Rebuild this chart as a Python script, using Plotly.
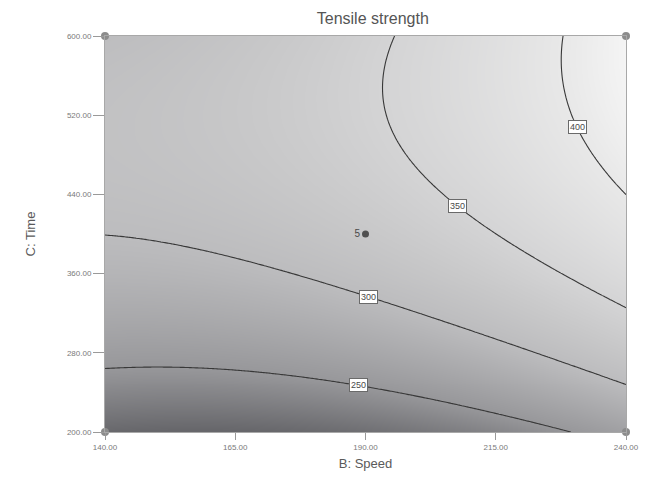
import numpy as np
import plotly.graph_objects as go

# Factor ranges (actual units)
speed_range = [140.0, 240.0]   # B: Speed
time_range = [200.0, 600.0]    # C: Time

# Fitted quadratic model for tensile strength in coded units:
# intercept, B, C, BC, B^2, C^2
coef = [323.68, 42.77, 62.38, 17.72, 19.33, -43.05]

contour_levels = [250, 300, 350, 400]
# speed at which each contour level is labelled
label_speed = [188.6, 190.5, 207.6, 230.6]

speed_ticks = [140, 165, 190, 215, 240]
time_ticks = [200, 280, 360, 440, 520, 600]

# Design points: factorial corners and the replicated centre point
corner_speed = [140, 140, 240, 240]
corner_time = [200, 600, 200, 600]
center_speed = [190]
center_time = [400]
center_reps = ["5"]


def coded(v, rng):
    return (np.asarray(v) - (rng[0] + rng[1]) / 2) / ((rng[1] - rng[0]) / 2)


def model(speed, time):
    b = coded(speed, speed_range)
    c = coded(time, time_range)
    return (coef[0] + coef[1] * b + coef[2] * c + coef[3] * b * c
            + coef[4] * b * b + coef[5] * c * c)


speeds = np.linspace(*speed_range, 201)
times = np.linspace(*time_range, 201)
S, T = np.meshgrid(speeds, times)
Z = model(S, T)

grays = [
    [0.00, "#67676b"],
    [(250 - 212) / 211, "#97979a"],
    [(300 - 212) / 211, "#bcbcbe"],
    [(325 - 212) / 211, "#c8c8c9"],
    [(350 - 212) / 211, "#d4d4d5"],
    [(400 - 212) / 211, "#e8e8e8"],
    [1.00, "#f4f4f4"],
]

fig = go.Figure()
fig.add_trace(go.Contour(
    x=speeds, y=times, z=Z,
    zmin=212, zmax=423, colorscale=grays, showscale=False,
    contours=dict(start=contour_levels[0], end=contour_levels[-1],
                  size=50, coloring="heatmap", showlabels=False),
    line=dict(color="#383838", width=1.1),
    hoverinfo="skip",
))

# Level labels placed on their contour line
fine_t = np.linspace(*time_range, 4001)
for lv, sp in zip(contour_levels, label_speed):
    vals = model(np.full_like(fine_t, sp), fine_t)
    t_lab = fine_t[np.argmin(np.abs(vals - lv))]
    fig.add_annotation(
        x=sp, y=t_lab, text=str(lv), showarrow=False,
        font=dict(family="Liberation Sans, Arial", size=9, color="#4a4a4a"),
        bgcolor="white", bordercolor="#6a6a6a", borderwidth=1, borderpad=1,
    )

fig.add_trace(go.Scatter(
    x=corner_speed, y=corner_time, mode="markers",
    marker=dict(size=8, color="#8c8c8c"), cliponaxis=False, hoverinfo="skip",
))
fig.add_trace(go.Scatter(
    x=center_speed, y=center_time, mode="markers+text",
    text=center_reps, textposition="middle left",
    textfont=dict(family="Liberation Sans, Arial", size=10, color="#4a4a4a"),
    marker=dict(size=7, color="#505050"), hoverinfo="skip",
))

axis_font = dict(family="Liberation Sans, Arial", size=8, color="#7a7a7a")
fig.update_xaxes(
    range=speed_range, tickvals=speed_ticks, tickformat=".2f",
    ticks="outside", ticklen=7, tickcolor="#9a9a9a", tickfont=axis_font,
    showline=True, linecolor="#a8a8a8", mirror=True, showgrid=False, zeroline=False,
    title=dict(text="B: Speed", standoff=8,
               font=dict(family="Liberation Sans, Arial", size=13, color="#5a5a5a")),
)
fig.update_yaxes(
    range=time_range, tickvals=time_ticks, tickformat=".2f",
    ticks="outside", ticklen=11, tickcolor="#9a9a9a", tickfont=axis_font,
    showline=True, linecolor="#a8a8a8", mirror=True, showgrid=False, zeroline=False,
    title=dict(text="C: Time", standoff=28,
               font=dict(family="Liberation Sans, Arial", size=13, color="#5a5a5a")),
)
fig.update_layout(
    width=654, height=491,
    margin=dict(l=105, r=28, t=36, b=59),
    paper_bgcolor="white", plot_bgcolor="white",
    showlegend=False,
    title=dict(text="Tensile strength", x=0.57, xanchor="center",
               y=0.963, yanchor="middle",
               font=dict(family="Liberation Sans, Arial", size=16, color="#555555")),
)
fig.write_html("out.html")
